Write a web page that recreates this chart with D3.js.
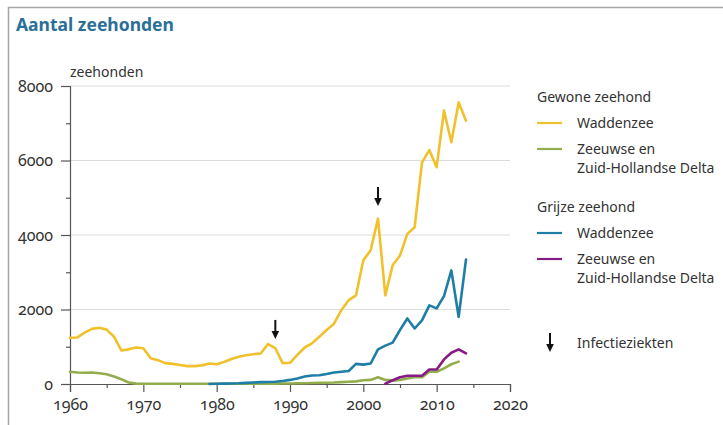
<!DOCTYPE html>
<html>
<head>
<meta charset="utf-8">
<script src="https://cdn.jsdelivr.net/npm/d3@7"></script>
<style>
  html, body { margin: 0; padding: 0; background: #fff; }
  svg { display: block; font-family: "Noto Sans", "Open Sans", sans-serif; }
  .num { font-feature-settings: "onum"; font-variant-numeric: oldstyle-nums; }
</style>
</head>
<body>
<svg id="chart" width="723" height="425"></svg>
<script>
// ---- data ----
const title = "Aantal zeehonden";
const yLabel = "zeehonden";

const yearsGewoneWadden = d3.range(1960, 2015);
const gewoneWadden = [
  1240, 1250, 1380, 1480, 1510, 1460, 1270, 900, 930, 980,
  960, 690, 640, 560, 540, 510, 480, 480, 500, 550,
  530, 590, 670, 730, 770, 800, 820, 1070, 960, 560,
  570, 780, 980, 1090, 1270, 1450, 1620, 1980, 2250, 2380,
  3320, 3590, 4440, 2380, 3190, 3450, 4030, 4210, 5950, 6280,
  5820, 7340, 6490, 7560, 7070
];

const yearsGewoneDelta = d3.range(1960, 2014);
const gewoneDelta = [
  330, 310, 300, 310, 290, 260, 200, 130, 40, 10,
  8, 8, 8, 8, 8, 8, 8, 8, 8, 8,
  8, 8, 8, 8, 8, 8, 8, 8, 10, 12,
  15, 20, 20, 25, 30, 35, 40, 50, 60, 70,
  100, 110, 180, 110, 90, 110, 150, 180, 180, 330,
  330, 420, 530, 600
];

const yearsGrijzeWadden = d3.range(1979, 2015);
const grijzeWadden = [
  0, 5, 10, 15, 20, 30, 40, 50, 55, 60,
  80, 110, 150, 200, 230, 235, 270, 310, 330, 350,
  540, 520, 550, 930, 1030, 1110, 1450, 1760, 1490, 1710,
  2110, 2030, 2360, 3050, 1800, 3340
];

const yearsGrijzeDelta = d3.range(2003, 2015);
const grijzeDelta = [10, 100, 180, 220, 220, 220, 390, 390, 660, 840, 930, 820];

const infectionYears = [1988, 2002];
const infectionTipValues = [1210, 4780];

const xTicks = [1960, 1970, 1980, 1990, 2000, 2010, 2020];
const xMinorTicks = [1965, 1975, 1985, 1995, 2005, 2015];
const yTicks = [0, 2000, 4000, 6000, 8000];
const yMinorTicks = [1000, 3000, 5000, 7000];

const seriesNames = ["Waddenzee", "Zeeuwse en|Zuid-Hollandse Delta", "Waddenzee", "Zeeuwse en|Zuid-Hollandse Delta"];
const groupNames = ["Gewone zeehond", "Grijze zeehond"];
const colors = ["#f0c12c", "#93ad4c", "#1f7ea6", "#861a86"];
const infectionLabel = "Infectieziekten";

// ---- build ----
const svg = d3.select("#chart");

// frame
svg.append("path")
  .attr("d", "M8.5,425 L8.5,7.5 L723,7.5")
  .attr("fill", "none").attr("stroke", "#a6a6a6").attr("stroke-width", 1.5);

svg.append("text")
  .attr("x", 16).attr("y", 31)
  .attr("font-size", 17.5).attr("font-weight", 700)
  .attr("fill", "#2b6f98")
  .text(title);

const x = d3.scaleLinear().domain([1960, 2020]).range([70, 510]);
const y = d3.scaleLinear().domain([0, 8000]).range([384, 86]);

// gridlines
svg.append("g").selectAll("line").data(yTicks.filter(d => d > 0)).join("line")
  .attr("x1", x(1960)).attr("x2", x(2020))
  .attr("y1", d => y(d)).attr("y2", d => y(d))
  .attr("stroke", "#dcdcdc").attr("stroke-width", 1);

// y axis
const yAxis = svg.append("g").attr("transform", `translate(${x(1960)},0)`)
  .call(d3.axisLeft(y).tickValues(yTicks).tickFormat(d3.format("d")).tickSize(9).tickPadding(8));
yAxis.attr("font-size", 16).attr("font-family", null);
yAxis.select(".domain").attr("stroke", "#555").attr("stroke-width", 1.2);
yAxis.selectAll(".tick line").attr("stroke", "#555").attr("stroke-width", 1.2);
yAxis.selectAll(".tick text").attr("class", "num").attr("fill", "#333");
svg.append("g").attr("transform", `translate(${x(1960)},0)`)
  .call(d3.axisLeft(y).tickValues(yMinorTicks).tickFormat("").tickSize(4))
  .call(g => g.select(".domain").remove())
  .selectAll(".tick line").attr("stroke", "#555").attr("stroke-width", 1.2);

// x axis
const xAxis = svg.append("g").attr("transform", `translate(0,${y(0)})`)
  .call(d3.axisBottom(x).tickValues(xTicks).tickFormat(d3.format("d")).tickSize(8).tickPadding(7));
xAxis.attr("font-size", 16).attr("font-family", null);
xAxis.select(".domain").attr("stroke", "#555").attr("stroke-width", 1.2);
xAxis.selectAll(".tick line").attr("stroke", "#555").attr("stroke-width", 1.2);
xAxis.selectAll(".tick text").attr("class", "num").attr("fill", "#333");
svg.append("g").attr("transform", `translate(0,${y(0)})`)
  .call(d3.axisBottom(x).tickValues(xMinorTicks).tickFormat("").tickSize(4))
  .call(g => g.select(".domain").remove())
  .selectAll(".tick line").attr("stroke", "#555").attr("stroke-width", 1.2);

svg.append("text").attr("x", 70).attr("y", 77)
  .attr("font-size", 14).attr("fill", "#333").text(yLabel);

// lines
const line = d3.line().x(d => x(d[0])).y(d => y(d[1]));
const series = [
  d3.zip(yearsGewoneDelta, gewoneDelta),
  d3.zip(yearsGrijzeDelta, grijzeDelta),
  d3.zip(yearsGrijzeWadden, grijzeWadden),
  d3.zip(yearsGewoneWadden, gewoneWadden)
];
const seriesColors = [colors[1], colors[3], colors[2], colors[0]];
svg.append("g").selectAll("path").data(series).join("path")
  .attr("d", line)
  .attr("fill", "none")
  .attr("stroke", (d, i) => seriesColors[i])
  .attr("stroke-width", 2.6)
  .attr("stroke-linejoin", "round")
  .attr("stroke-linecap", "round");

// arrows
function drawArrow(g, cx, tipY, len) {
  g.append("line").attr("x1", cx).attr("x2", cx).attr("y1", tipY - len).attr("y2", tipY - 6)
    .attr("stroke", "#111").attr("stroke-width", 2);
  g.append("path").attr("d", `M${cx - 3.8},${tipY - 8} L${cx + 3.8},${tipY - 8} L${cx},${tipY} Z`)
    .attr("fill", "#111");
}
const arrowG = svg.append("g");
infectionYears.forEach((yr, i) => drawArrow(arrowG, x(yr), y(infectionTipValues[i]), 19));

// legend
const lg = svg.append("g").attr("font-size", 14).attr("fill", "#333");
const lx = 537, tx = 577;
const groupTop = [102, 212];
groupNames.forEach((gName, gi) => {
  const top = groupTop[gi];
  lg.append("text").attr("x", lx).attr("y", top).text(gName);
  [0, 1].forEach(k => {
    const si = gi * 2 + k;
    const rowY = top + 26 + k * 26;
    lg.append("line").attr("x1", lx).attr("x2", lx + 25)
      .attr("y1", rowY - 5).attr("y2", rowY - 5)
      .attr("stroke", colors[si]).attr("stroke-width", 2.2);
    seriesNames[si].split("|").forEach((t, j) => {
      lg.append("text").attr("x", tx).attr("y", rowY + j * 19).text(t);
    });
  });
});
drawArrow(lg, 550, 352, 19);
lg.append("text").attr("x", tx).attr("y", 348).text(infectionLabel);
</script>
</body>
</html>
